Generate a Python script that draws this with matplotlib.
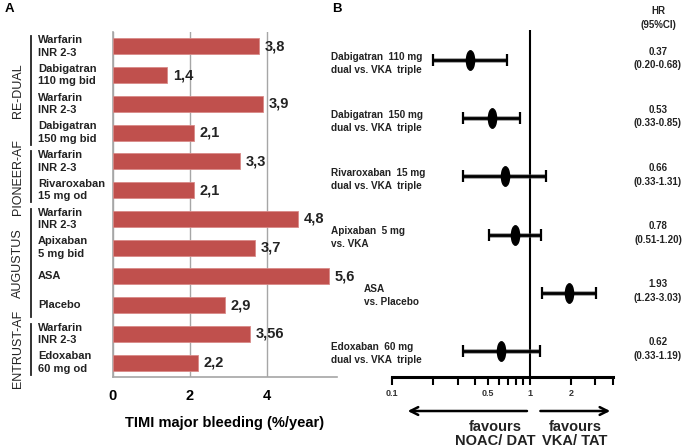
import numpy as np
import matplotlib
matplotlib.use("Agg")
import matplotlib.pyplot as plt
from matplotlib.path import Path
from matplotlib.transforms import Affine2D, blended_transform_factory

plt.rcParams['font.family'] = ['Liberation Sans', 'DejaVu Sans']

# panel A: TIMI major bleeding (%/year)
etiquetas = ["Warfarin\nINR 2-3", "Dabigatran\n110 mg bid", "Warfarin\nINR 2-3",
             "Dabigatran\n150 mg bid", "Warfarin\nINR 2-3", "Rivaroxaban\n15 mg od",
             "Warfarin\nINR 2-3", "Apixaban\n5 mg bid", "ASA", "Placebo",
             "Warfarin\nINR 2-3", "Edoxaban\n60 mg od"]
sangrado = [3.8, 1.4, 3.9, 2.1, 3.3, 2.1, 4.8, 3.7, 5.6, 2.9, 3.56, 2.2]
texto_valor = ["3,8", "1,4", "3,9", "2,1", "3,3", "2,1", "4,8", "3,7", "5,6", "2,9", "3,56", "2,2"]
# estudios: nombre, primera barra, ultima barra
estudios = [("RE-DUAL", 0, 3), ("PIONEER-AF", 4, 5), ("AUGUSTUS", 6, 9), ("ENTRUST-AF", 10, 11)]

# panel B: hazard ratios
comparaciones = ["Dabigatran  110 mg\ndual vs. VKA  triple", "Dabigatran  150 mg\ndual vs. VKA  triple",
                 "Rivaroxaban  15 mg\ndual vs. VKA  triple", "Apixaban  5 mg\nvs. VKA",
                 "ASA\nvs. Placebo", "Edoxaban  60 mg\ndual vs. VKA  triple"]
hr = [0.37, 0.53, 0.66, 0.78, 1.93, 0.62]
ci_bajo = [0.20, 0.33, 0.33, 0.51, 1.23, 0.33]
ci_alto = [0.68, 0.85, 1.31, 1.20, 3.03, 1.19]
ticks_log = [0.1, 0.2, 0.3, 0.4, 0.5, 0.6, 0.7, 0.8, 0.9, 1, 2, 3, 4]
ticks_texto = {0.1: "0.1", 0.5: "0.5", 1: "1", 2: "2"}

W, H = 685, 447
fig = plt.figure(figsize=(W / 100, H / 100), dpi=100)

def caja(x0, y0, x1, y1):
    return [x0 / W, 1 - y1 / H, (x1 - x0) / W, (y1 - y0) / H]

# ---------------- panel A ----------------
axA = fig.add_axes(caja(113, 32, 337, 377))
y = np.arange(len(sangrado))
axA.barh(y, sangrado, height=0.56, color="#C0504D", edgecolor="#D88A88", linewidth=0.6, zorder=3)
for i in range(len(sangrado)):
    axA.text(sangrado[i] + 0.15, y[i], texto_valor[i], va="center", ha="left",
             fontsize=10.5, fontweight="bold", color="#222222")
axA.set_ylim(len(sangrado) - 0.5, -0.5)
axA.set_xlim(0, 5.82)
axA.set_xticks([0, 2, 4])
axA.set_yticks([])
axA.grid(axis="x", color="#A6A6A6", linewidth=1, zorder=0)
for s in ["top", "right"]:
    axA.spines[s].set_visible(False)
axA.spines["left"].set_color("#A6A6A6")
axA.spines["bottom"].set_color("#A6A6A6")
axA.spines["left"].set_linewidth(1.2)
axA.spines["bottom"].set_linewidth(1.2)
axA.tick_params(axis="x", length=0, pad=9, labelsize=10.5)
for t in axA.get_xticklabels():
    t.set_fontweight("bold")
axA.set_xlabel("TIMI major bleeding (%/year)", fontsize=10.5, fontweight="bold", labelpad=9)

trA = blended_transform_factory(axA.transAxes, axA.transData)
for i, lab in enumerate(etiquetas):
    axA.text(-0.335, y[i], lab, transform=trA, ha="left", va="center",
             fontsize=8, fontweight="bold", linespacing=1.3, color="#222222")
for nombre, a, b in estudios:
    axA.plot([-0.366, -0.366], [a - 0.35, b + 0.42], transform=trA, color="#222222",
             lw=1.3, clip_on=False)
    axA.text(-0.425, (a + b) / 2 + 0.03, nombre, transform=trA, rotation=90,
             ha="center", va="center", fontsize=9, color="#222222")

fig.text(5 / W, 1 - 9 / H, "A", fontsize=9.5, fontweight="bold", va="center")
fig.text(332 / W, 1 - 9 / H, "B", fontsize=9.5, fontweight="bold", va="center")

# ---------------- panel B ----------------
axB = fig.add_axes(caja(392, 30, 613, 377))
yb = np.arange(len(hr))
hr_a = np.array(hr)
err = [hr_a - np.array(ci_bajo), np.array(ci_alto) - hr_a]
elipse = Path.unit_circle().transformed(Affine2D().scale(0.42, 1.0))
axB.errorbar(hr, yb, xerr=err, fmt="none", ecolor="#555555", elinewidth=3.6,
             capsize=0, alpha=0.5, zorder=2)
axB.errorbar(hr, yb, xerr=err, fmt="none", ecolor="black", elinewidth=2.0,
             capsize=4.5, capthick=1.6, zorder=3)
axB.plot(hr, yb, linestyle="none", marker=elipse, markersize=14, color="black", zorder=4)
axB.axvline(1, color="black", lw=1.5, zorder=1)
axB.set_xscale("log")
axB.set_xlim(0.1, 4.02)
axB.set_ylim(5.45, -0.52)
axB.set_yticks([])
axB.xaxis.set_minor_locator(matplotlib.ticker.NullLocator())
axB.set_xticks(ticks_log)
axB.set_xticklabels([ticks_texto.get(t, "") for t in ticks_log])
axB.tick_params(axis="x", length=5.5, width=1.5, pad=3, labelsize=6.5, labelcolor="#333333")
for t in axB.get_xticklabels():
    t.set_fontweight("bold")
for s in ["top", "right", "left"]:
    axB.spines[s].set_visible(False)
axB.spines["bottom"].set_linewidth(2.2)

trB = blended_transform_factory(fig.transFigure, axB.transData)
for i, lab in enumerate(comparaciones):
    x0 = 364 / W if lab.startswith("ASA") else 331 / W
    axB.text(x0, yb[i] + 0.05, lab, transform=trB, ha="left", va="center",
             fontsize=7.2, fontweight="bold", linespacing=1.35, color="#222222")
    axB.text(658 / W, yb[i] - 0.03, "%.2f\n(%.2f-%.2f)" % (hr[i], ci_bajo[i], ci_alto[i]),
             transform=trB, ha="center", va="center", fontsize=7, fontweight="bold",
             linespacing=1.45, color="#222222")
fig.text(658 / W, 1 - 18 / H, "HR\n(95%CI)", ha="center", va="center", fontsize=7,
         fontweight="bold", linespacing=1.5, color="#222222")

# flechas de favorece
trF = blended_transform_factory(axB.transData, axB.transAxes)
axB.annotate("", xy=(0.124, -0.098), xytext=(1.0, -0.098), xycoords=trF, textcoords=trF,
             arrowprops=dict(arrowstyle="->", lw=1.8, color="black", mutation_scale=14))
axB.annotate("", xy=(4.02, -0.098), xytext=(1.14, -0.098), xycoords=trF, textcoords=trF,
             arrowprops=dict(arrowstyle="->", lw=1.8, color="black", mutation_scale=14))
fig.text(495 / W, 1 - 434 / H, "favours\nNOAC/ DAT", ha="center", va="center",
         fontsize=10.5, fontweight="bold", linespacing=1.05, color="#222222")
fig.text(575 / W, 1 - 434 / H, "favours\nVKA/ TAT", ha="center", va="center",
         fontsize=10.5, fontweight="bold", linespacing=1.05, color="#222222")

fig.savefig("out.png", dpi=100)
